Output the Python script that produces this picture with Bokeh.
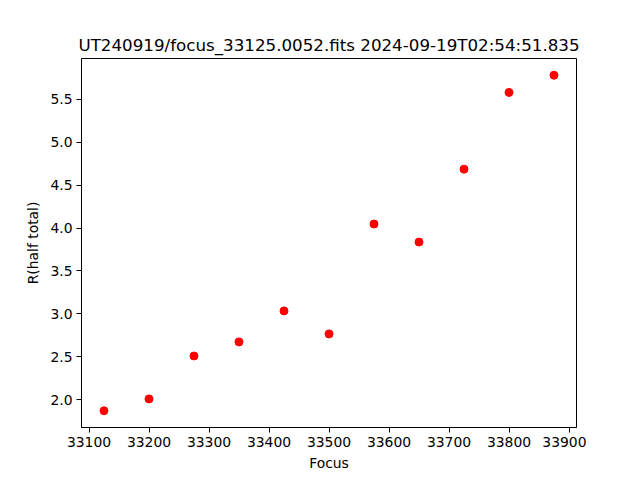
from bokeh.plotting import figure
from bokeh.models import FixedTicker, PrintfTickFormatter, Range1d
from bokeh.embed import file_html
from bokeh.resources import INLINE

focus = [33125, 33200, 33275, 33350, 33425, 33500, 33575, 33650, 33725, 33800, 33875]
r_half = [1.872, 2.01, 2.51, 2.674, 3.035, 2.767, 4.047, 3.837, 4.686, 5.58, 5.78]
x_ticks = [33100, 33200, 33300, 33400, 33500, 33600, 33700, 33800, 33900]
y_ticks = [2.0, 2.5, 3.0, 3.5, 4.0, 4.5, 5.0, 5.5]
title = "UT240919/focus_33125.0052.fits 2024-09-19T02:54:51.835"

FONT = "DejaVu Sans"

p = figure(width=640, height=480, output_backend="svg", toolbar_location=None,
           x_range=Range1d(33087.5, 33912.5), y_range=Range1d(1.677, 5.975),
           title=title)
p.frame_width = 495
p.frame_height = 369
p.min_border_left = 81
p.min_border_top = 58
p.min_border_right = 10
p.min_border_bottom = 10

p.title.align = "center"
p.title.text_font = FONT
p.title.text_font_size = "16.7px"
p.title.text_font_style = "normal"
p.title.text_color = "black"
p.title.standoff = 7

p.xgrid.visible = False
p.ygrid.visible = False
p.outline_line_color = "black"
p.outline_line_width = 1
p.outline_line_alpha = 1

for ax in (p.xaxis[0], p.yaxis[0]):
    ax.axis_line_color = "black"
    ax.major_tick_line_color = "black"
    ax.major_tick_out = 5
    ax.major_tick_in = 0
    ax.minor_tick_line_color = None
    ax.major_label_text_font = FONT
    ax.major_label_text_font_size = "13.9px"
    ax.major_label_text_color = "black"
    ax.axis_label_text_font = FONT
    ax.axis_label_text_font_size = "13.9px"
    ax.axis_label_text_font_style = "normal"
    ax.axis_label_text_color = "black"

p.xaxis.ticker = FixedTicker(ticks=x_ticks)
p.yaxis.ticker = FixedTicker(ticks=y_ticks)
p.yaxis.formatter = PrintfTickFormatter(format="%.1f")
p.xaxis.axis_label = "Focus"
p.yaxis.axis_label = "R(half total)"
p.xaxis.major_label_standoff = 4
p.yaxis.major_label_standoff = 4
p.xaxis.axis_label_standoff = 5
p.yaxis.axis_label_standoff = 6

p.scatter(focus, r_half, size=8, color="red", line_color="red")

open("out.html", "w").write(file_html(p, INLINE))
